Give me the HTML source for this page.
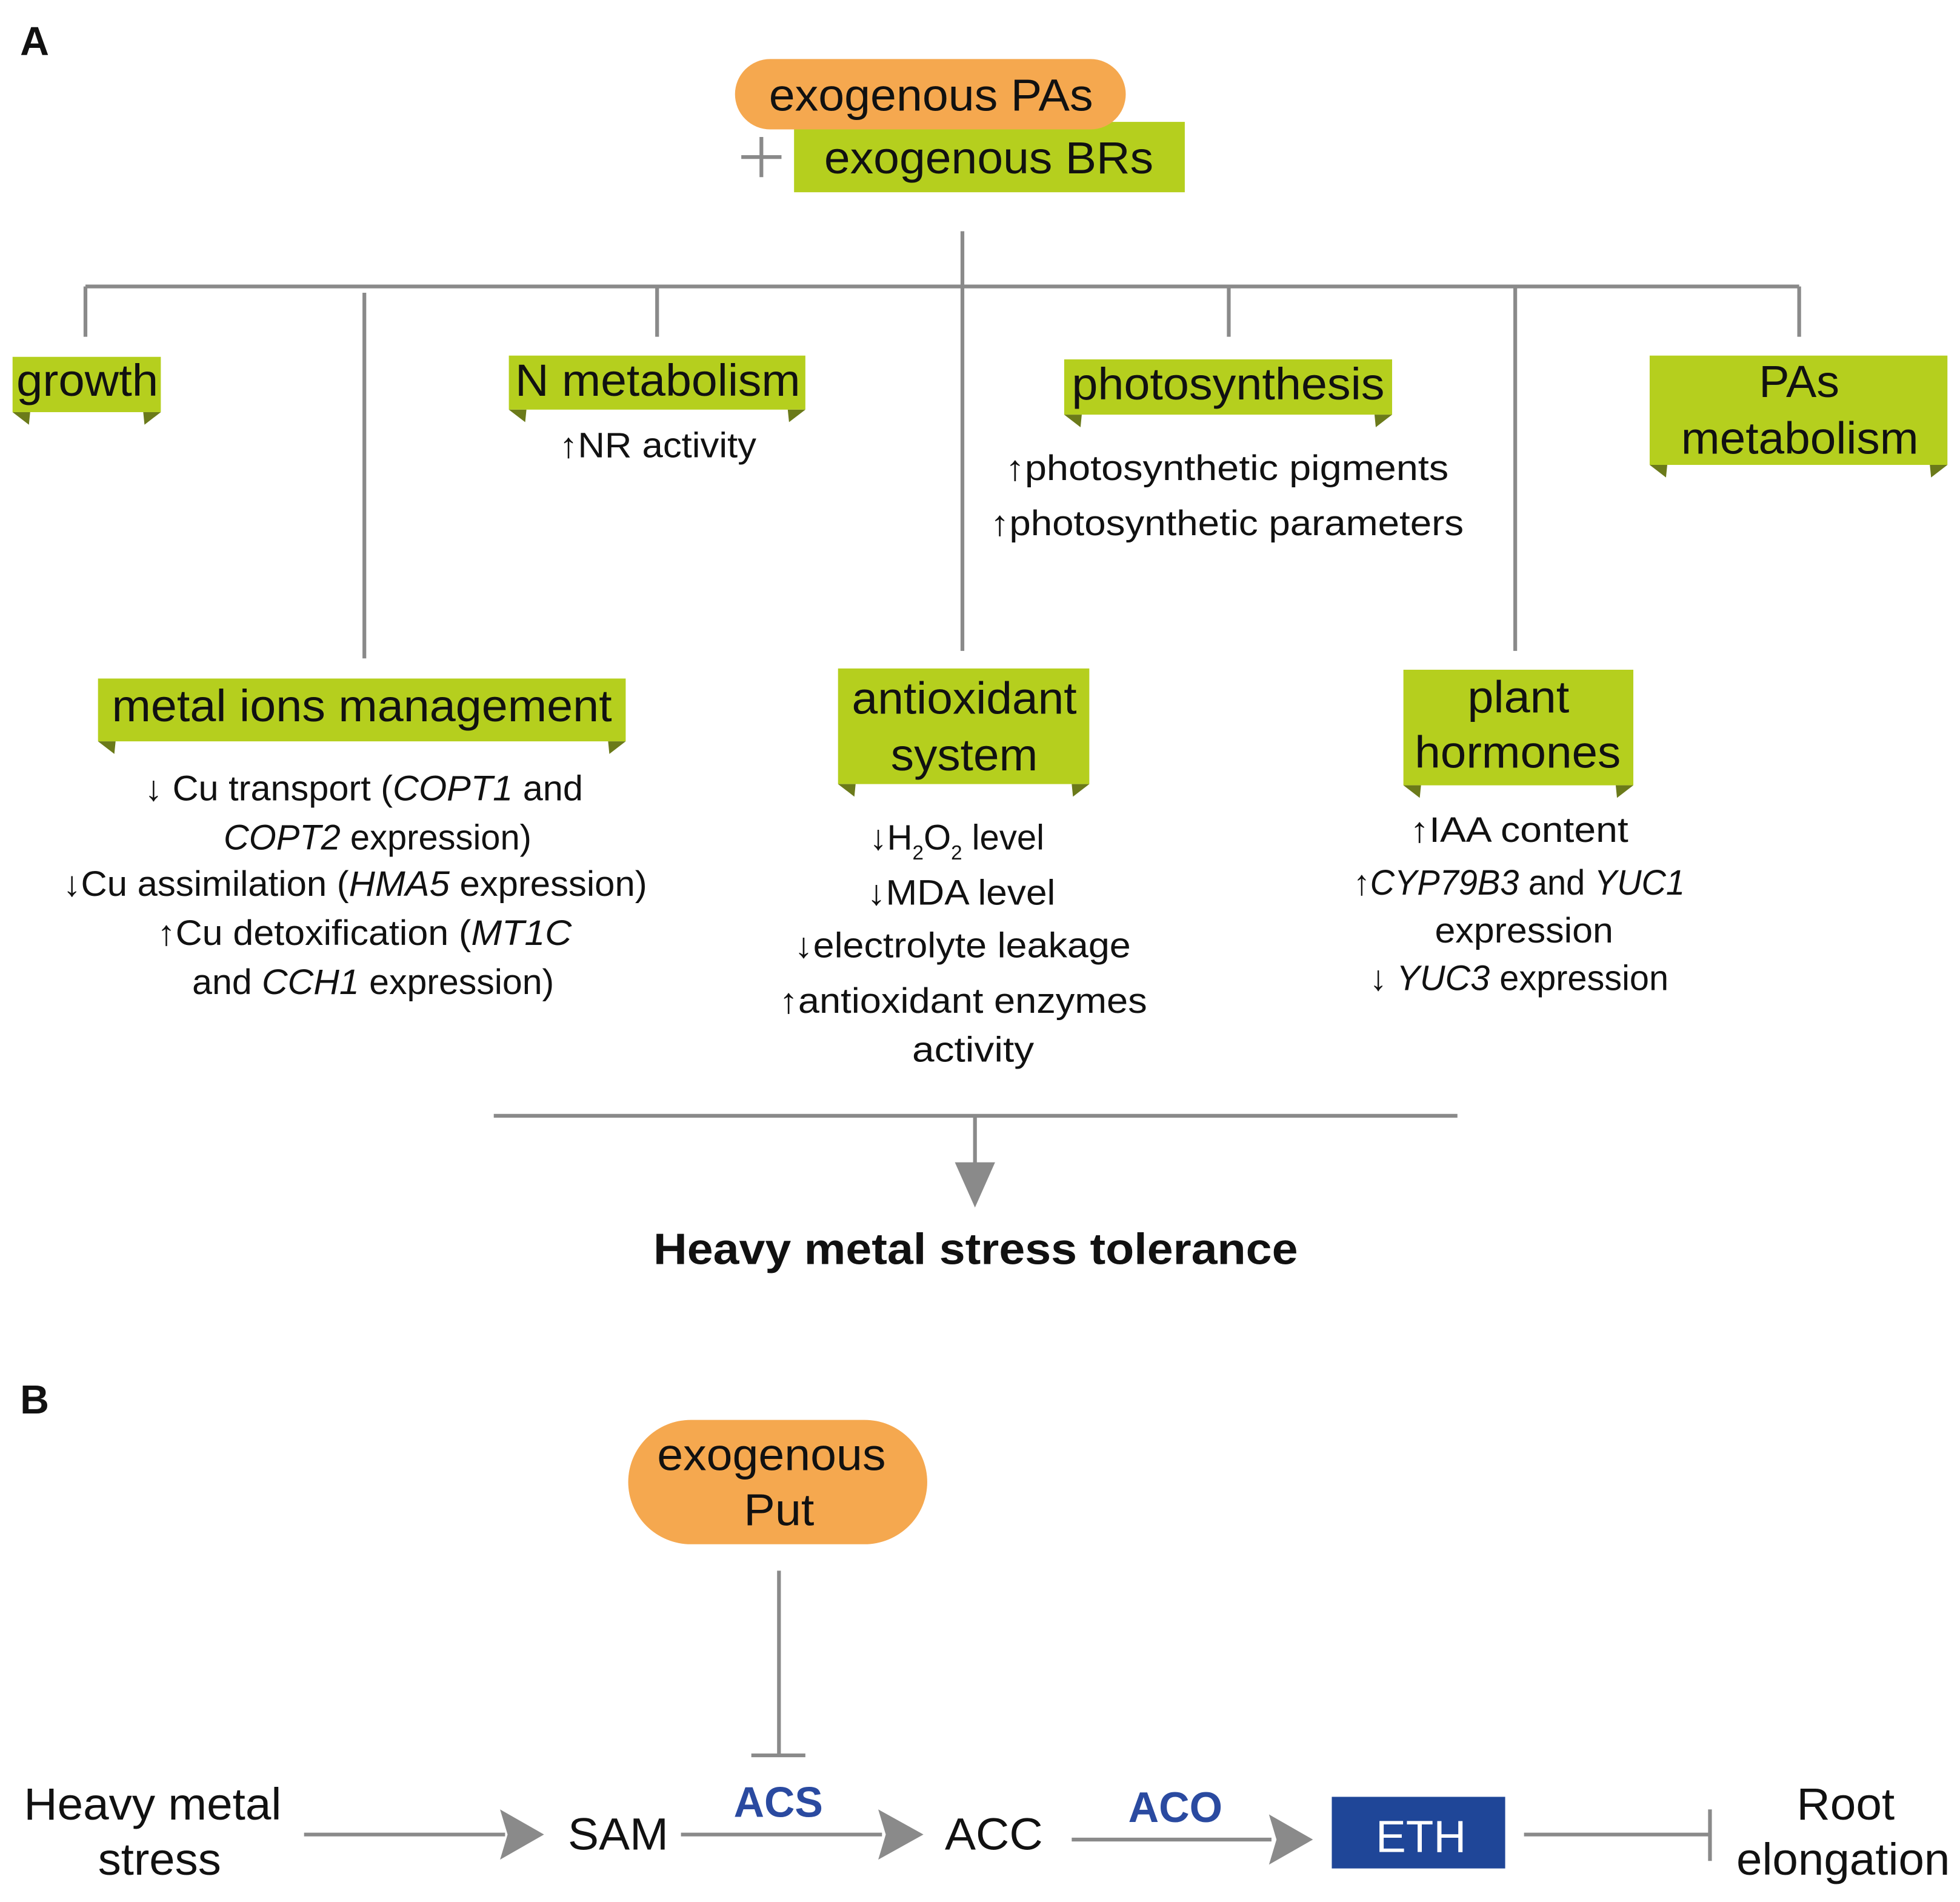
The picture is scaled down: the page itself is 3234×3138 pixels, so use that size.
<!DOCTYPE html>
<html><head><meta charset="utf-8"><style>
html,body{margin:0;padding:0;background:#fff}
svg{display:block}
.h{font-family:"Liberation Sans",sans-serif;font-size:36px;fill:#111}
.b{font-family:"Liberation Sans",sans-serif;font-size:28px;fill:#111}
.i{font-style:italic}
</style></head><body>
<svg xmlns="http://www.w3.org/2000/svg" width="3234" height="3138" viewBox="0 0 1560 1513.7">
<rect width="1560" height="1514" fill="#fff"/>
<g fill="#b5cf1e">
<rect x="632" y="97" width="311" height="56"/>
</g>
<rect x="585" y="47" width="311" height="56" rx="28" fill="#f5a84f"/>
<text class="h" x="612" y="88" textLength="258" lengthAdjust="spacingAndGlyphs">exogenous PAs</text>
<text class="h" x="656" y="138" textLength="262" lengthAdjust="spacingAndGlyphs">exogenous BRs</text>
<g stroke="#8a8a8a" stroke-width="3" fill="none">
<path d="M590 125H622M606 109V141"/>
<path d="M766 184V518M68 228H1432M68 228V268M290 233V524M523 228V268M978 228V268M1206 228V518M1432 228V268"/>
<path d="M393 888H1160M776 888V928"/>
<path d="M620 1250V1397M598 1397H641"/>
<path d="M242 1460H402M542 1460H702M853 1464H1012M1213 1460H1360M1361 1440V1481"/>
</g>
<path d="M760 925L776 961L792 925Z" fill="#8a8a8a"/>
<g fill="#8a8a8a">
<path d="M398 1440L433 1460L398 1480L404 1460Z"/>
<path d="M699 1440L735 1460L699 1480L705 1460Z"/>
<path d="M1010 1444L1045 1464L1010 1484L1016 1464Z"/>
</g>
<text x="16" y="44" font-family="Liberation Sans,sans-serif" font-weight="bold" font-size="32" fill="#111">A</text>
<text x="16" y="1125" font-family="Liberation Sans,sans-serif" font-weight="bold" font-size="32" fill="#111">B</text>
<!-- ribbons -->
<g fill="#b5cf1e">
<rect x="10" y="284" width="118" height="44"/>
<rect x="405" y="283" width="236" height="43"/>
<rect x="847" y="286" width="261" height="44"/>
<rect x="1313" y="283" width="237" height="87"/>
<rect x="78" y="540" width="420" height="50"/>
<rect x="667" y="532" width="200" height="92"/>
<rect x="1117" y="533" width="183" height="92"/>
</g>
<g fill="#6b7a1a">
<path d="M10 328H24L23 338Z M128 328H114L115 338Z"/>
<path d="M405 326H419L418 336Z M641 326H627L628 336Z"/>
<path d="M847 330H861L860 340Z M1108 330H1094L1095 340Z"/>
<path d="M1313 370H1327L1326 380Z M1550 370H1536L1537 380Z"/>
<path d="M78 590H92L91 600Z M498 590H484L485 600Z"/>
<path d="M667 624H681L680 634Z M867 624H853L854 634Z"/>
<path d="M1117 625H1131L1130 635Z M1300 625H1286L1287 635Z"/>
</g>
<g class="h" lengthAdjust="spacingAndGlyphs">
<text class="h" x="13" y="315" textLength="113" lengthAdjust="spacingAndGlyphs">growth</text>
<text class="h" x="410" y="315" textLength="227" lengthAdjust="spacingAndGlyphs">N metabolism</text>
<text class="h" x="853" y="318" textLength="249" lengthAdjust="spacingAndGlyphs">photosynthesis</text>
<text class="h" x="1400" y="316" textLength="64" lengthAdjust="spacingAndGlyphs">PAs</text>
<text class="h" x="1338" y="361" textLength="189" lengthAdjust="spacingAndGlyphs">metabolism</text>
<text class="h" x="89" y="574" textLength="398" lengthAdjust="spacingAndGlyphs">metal ions management</text>
<text class="h" x="678" y="568" textLength="179" lengthAdjust="spacingAndGlyphs">antioxidant</text>
<text class="h" x="709" y="613" textLength="117" lengthAdjust="spacingAndGlyphs">system</text>
<text class="h" x="1168" y="567" textLength="81" lengthAdjust="spacingAndGlyphs">plant</text>
<text class="h" x="1126" y="611" textLength="164" lengthAdjust="spacingAndGlyphs">hormones</text>
</g>
<text class="b" x="445" y="364" textLength="157" lengthAdjust="spacingAndGlyphs">↑NR activity</text>
<text class="b" x="800" y="382" textLength="353" lengthAdjust="spacingAndGlyphs">↑photosynthetic pigments</text>
<text class="b" x="788" y="426" textLength="377" lengthAdjust="spacingAndGlyphs">↑photosynthetic parameters</text>
<text class="b" x="115" y="637" textLength="349" lengthAdjust="spacingAndGlyphs">↓ Cu transport (<tspan class="i">COPT1</tspan> and</text>
<text class="b" x="178" y="676" textLength="245" lengthAdjust="spacingAndGlyphs"><tspan class="i">COPT2</tspan> expression)</text>
<text class="b" x="50" y="713" textLength="465" lengthAdjust="spacingAndGlyphs">↓Cu assimilation (<tspan class="i">HMA5</tspan> expression)</text>
<text class="b" x="125" y="752" textLength="330" lengthAdjust="spacingAndGlyphs">↑Cu detoxification (<tspan class="i">MT1C</tspan></text>
<text class="b" x="153" y="791" textLength="288" lengthAdjust="spacingAndGlyphs">and <tspan class="i">CCH1</tspan> expression)</text>
<text class="b" x="692" y="676">↓H<tspan font-size="16" dy="8">2</tspan><tspan dy="-8">O</tspan><tspan font-size="16" dy="8">2</tspan><tspan dy="-8"> level</tspan></text>
<text class="b" x="690" y="720" textLength="150" lengthAdjust="spacingAndGlyphs">↓MDA level</text>
<text class="b" x="632" y="762" textLength="268" lengthAdjust="spacingAndGlyphs">↓electrolyte leakage</text>
<text class="b" x="620" y="806" textLength="293" lengthAdjust="spacingAndGlyphs">↑antioxidant enzymes</text>
<text class="b" x="726" y="845" textLength="97" lengthAdjust="spacingAndGlyphs">activity</text>
<text class="b" x="1122" y="670" textLength="174" lengthAdjust="spacingAndGlyphs">↑IAA content</text>
<text class="b" x="1077" y="712" textLength="264" lengthAdjust="spacingAndGlyphs">↑<tspan class="i">CYP79B3</tspan> and <tspan class="i">YUC1</tspan></text>
<text class="b" x="1142" y="750" textLength="142" lengthAdjust="spacingAndGlyphs">expression</text>
<text class="b" x="1090" y="788" textLength="238" lengthAdjust="spacingAndGlyphs">↓ <tspan class="i">YUC3</tspan> expression</text>
<text x="520" y="1006" textLength="513" lengthAdjust="spacingAndGlyphs" font-family="Liberation Sans,sans-serif" font-weight="bold" font-size="35" fill="#111">Heavy metal stress tolerance</text>
<!-- B -->
<rect x="500" y="1130" width="238" height="99" rx="50" fill="#f5a84f"/>
<text class="h" x="523" y="1170" textLength="182" lengthAdjust="spacingAndGlyphs">exogenous</text>
<text class="h" x="592" y="1214" textLength="56" lengthAdjust="spacingAndGlyphs">Put</text>
<text class="h" x="19" y="1448" textLength="205" lengthAdjust="spacingAndGlyphs">Heavy metal</text>
<text class="h" x="78" y="1492" textLength="98" lengthAdjust="spacingAndGlyphs">stress</text>
<text class="h" x="452" y="1472" textLength="80" lengthAdjust="spacingAndGlyphs">SAM</text>
<text x="584" y="1446" textLength="71" lengthAdjust="spacingAndGlyphs" font-family="Liberation Sans,sans-serif" font-weight="bold" font-size="34" fill="#2a4aa0">ACS</text>
<text class="h" x="752" y="1472" textLength="78" lengthAdjust="spacingAndGlyphs">ACC</text>
<text x="898" y="1450" textLength="75" lengthAdjust="spacingAndGlyphs" font-family="Liberation Sans,sans-serif" font-weight="bold" font-size="34" fill="#2a4aa0">ACO</text>
<rect x="1060" y="1430" width="138" height="57" fill="#1f4698"/>
<text x="1095" y="1474" textLength="72" lengthAdjust="spacingAndGlyphs" font-family="Liberation Sans,sans-serif" font-size="36" fill="#fff">ETH</text>
<text class="h" x="1430" y="1448" textLength="78" lengthAdjust="spacingAndGlyphs">Root</text>
<text class="h" x="1382" y="1492" textLength="170" lengthAdjust="spacingAndGlyphs">elongation</text>
</svg>
</body></html>
